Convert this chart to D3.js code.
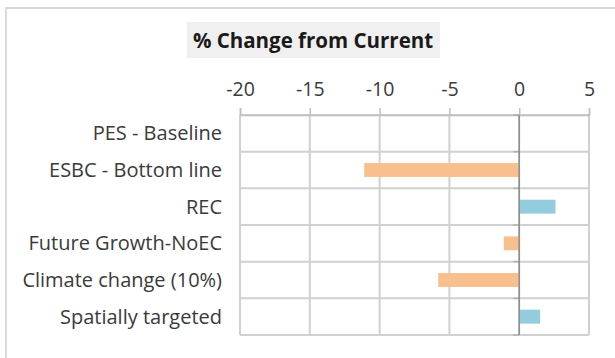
<!DOCTYPE html>
<html>
<head>
<meta charset="utf-8">
<script src="https://cdn.jsdelivr.net/npm/d3@7"></script>
<style>
  body { margin: 0; background: #fff; }
  svg { display: block; }
</style>
</head>
<body>
<div id="chart"></div>
<script>
// scenarios, top to bottom
const categories = ["PES - Baseline", "ESBC - Bottom line", "REC", "Future Growth-NoEC", "Climate change (10%)", "Spatially targeted"];
const changes = [0, -11.1, 2.6, -1.1, -5.8, 1.5];
const xTicks = [-20, -15, -10, -5, 0, 5];

const width = 615, height = 358;
const margin = {top: 115, right: 26, bottom: 23, left: 240};
const font = "'Open Sans', sans-serif";

const svg = d3.select("#chart").append("svg")
  .attr("width", width)
  .attr("height", height);

// outer chart border
svg.append("rect")
  .attr("x", 6).attr("y", 8)
  .attr("width", 620).attr("height", 360)
  .attr("fill", "none")
  .attr("stroke", "#d9d9d9")
  .attr("stroke-width", 2);

// title with grey box
svg.append("rect")
  .attr("x", 187).attr("y", 22)
  .attr("width", 253).attr("height", 36)
  .attr("fill", "#f0f0f0");
svg.append("text")
  .attr("x", 313).attr("y", 48)
  .attr("text-anchor", "middle")
  .style("font-family", font)
  .style("font-weight", "bold")
  .style("font-size", "20.5px")
  .attr("fill", "#1a1a1a")
  .text("% Change from Current");

const x = d3.scaleLinear().domain([-20, 5]).range([margin.left, width - margin.right]);
const y = d3.scaleBand().domain(categories).range([margin.top, height - margin.bottom]).paddingInner(0.62).paddingOuter(0.31);

const plotTop = margin.top, plotBottom = height - margin.bottom;

// vertical gridlines
svg.append("g")
  .selectAll("line")
  .data(xTicks)
  .enter().append("line")
  .attr("x1", d => x(d)).attr("x2", d => x(d))
  .attr("y1", plotTop).attr("y2", plotBottom)
  .attr("stroke", "#d0d0d0")
  .attr("stroke-width", 2);

// horizontal band boundaries
const bounds = d3.range(categories.length + 1).map(i => plotTop + i * (plotBottom - plotTop) / categories.length);
svg.append("g")
  .selectAll("line")
  .data(bounds)
  .enter().append("line")
  .attr("x1", x(-20)).attr("x2", x(5))
  .attr("y1", d => d).attr("y2", d => d)
  .attr("stroke", "#d0d0d0")
  .attr("stroke-width", 2);

// top axis
const xAxis = svg.append("g")
  .attr("transform", `translate(0,${plotTop})`)
  .call(d3.axisTop(x).tickValues(xTicks).tickSize(7).tickPadding(12).tickFormat(d3.format("d")));
xAxis.select(".domain").attr("stroke", "#bfbfbf").attr("stroke-width", 1.5);
xAxis.selectAll(".tick line").attr("stroke", "#bfbfbf").attr("stroke-width", 1.5);
xAxis.selectAll(".tick text")
  .style("font-family", font)
  .style("font-size", "19.5px")
  .attr("fill", "#3a3a3a")
  .text(d => d < 0 ? "-" + Math.abs(d) : d);

// small ticks on the zero line
svg.append("g")
  .selectAll("line")
  .data(bounds)
  .enter().append("line")
  .attr("x1", x(0) - 6).attr("x2", x(0))
  .attr("y1", d => d).attr("y2", d => d)
  .attr("stroke", "#b0b0b0")
  .attr("stroke-width", 1.5);

// category labels
svg.append("g")
  .selectAll("text")
  .data(categories)
  .enter().append("text")
  .attr("x", 222)
  .attr("y", d => y(d) + y.bandwidth() / 2)
  .attr("dy", "0.35em")
  .attr("text-anchor", "end")
  .style("font-family", font)
  .style("font-size", "20px")
  .attr("fill", "#3a3a3a")
  .text(d => d);

// bars
svg.append("g")
  .selectAll("rect")
  .data(categories.map((c, i) => ({c, v: changes[i]})).filter(d => d.v !== 0))
  .enter().append("rect")
  .attr("x", d => x(Math.min(0, d.v)))
  .attr("y", d => y(d.c))
  .attr("width", d => Math.abs(x(d.v) - x(0)))
  .attr("height", y.bandwidth())
  .attr("fill", d => d.v < 0 ? "#f9c08f" : "#93cddd");

// zero line on top of bars
svg.append("line")
  .attr("x1", x(0)).attr("x2", x(0))
  .attr("y1", plotTop).attr("y2", plotBottom)
  .attr("stroke", "#8c8c8c")
  .attr("stroke-width", 1.5);
</script>
</body>
</html>
